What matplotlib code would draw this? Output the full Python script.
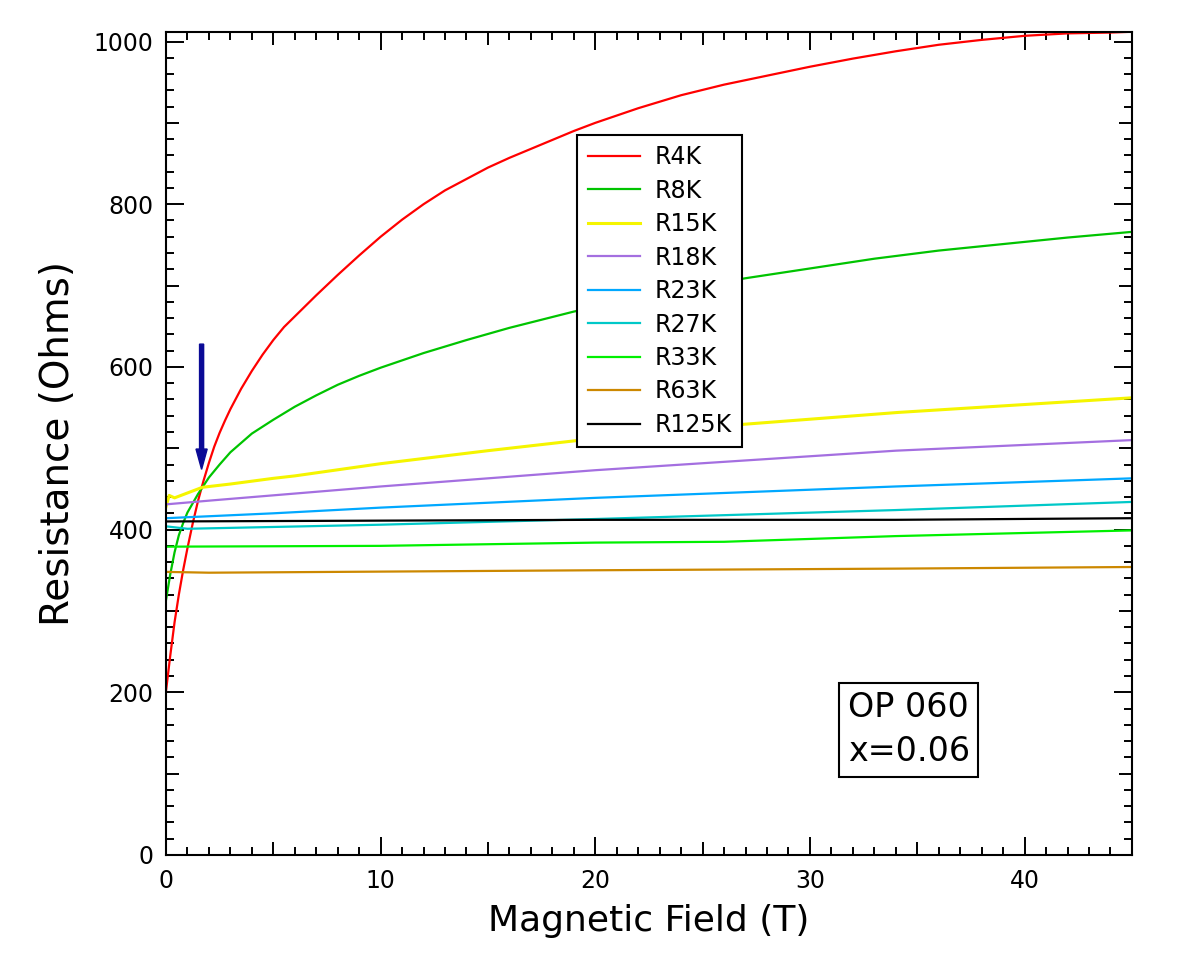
import matplotlib
matplotlib.use("Agg")
import matplotlib.pyplot as plt
from matplotlib.ticker import MultipleLocator

# field (T) / resistance (Ohms)
b_r4k = [0, 0.2, 0.4, 0.6, 0.8, 1.0, 1.25, 1.5, 1.75, 2.0, 2.25, 2.5, 2.75, 3.0, 3.5,
         4.0, 4.5, 5.0, 5.5, 6.0, 7.0, 8.0, 9.0, 10, 11, 12, 13, 14, 15, 16, 17, 18,
         19, 20, 22, 24, 26, 28, 30, 32, 34, 36, 38, 40, 42, 44, 45]
r4k = [201, 245, 286, 320, 350, 377, 408, 436, 460, 482, 502, 519, 534, 548, 573,
       595, 615, 633, 649, 662, 688, 713, 737, 760, 781, 800, 817, 831, 845, 857, 868, 879,
       890, 900, 918, 934, 947, 958, 969, 979, 988, 996, 1002, 1007, 1010, 1011, 1012]

b_r8k = [0, 0.2, 0.4, 0.6, 0.8, 1.0, 1.5, 2.0, 2.5, 3.0, 4.0, 5.0, 6.0, 7.0, 8.0, 9.0,
         10, 12, 14, 16, 19, 22, 25, 27, 30, 33, 36, 39, 42, 45]
r8k = [313, 345, 372, 393, 408, 421, 444, 464, 480, 495, 518, 535, 551, 565, 578, 589,
       599, 617, 633, 648, 668, 685, 700, 709, 721, 733, 743, 751, 759, 766]

b_r15k = [0, 0.15, 0.4, 1.0, 1.7, 3, 5, 6, 10, 15, 19, 26.7, 34.1, 45]
r15k = [428, 442, 439, 445, 452, 456, 463, 466, 481, 497, 509, 529, 544, 562]

b_r18k = [0, 2.2, 10, 20, 34, 45]
r18k = [431, 436, 453, 473, 497, 510]

b_r23k = [0, 5, 10, 20, 34, 45]
r23k = [414, 420, 427, 439, 453, 463]

b_r27k = [0, 1, 10, 20, 34, 45]
r27k = [404, 401, 406, 413, 424, 434]

b_r33k = [0, 10, 20, 26, 34, 45]
r33k = [379, 380, 384, 385, 392, 399]

b_r63k = [0, 2, 20, 34, 45]
r63k = [348, 347, 350, 352, 354]

b_r125k = [0, 10, 20, 34, 45]
r125k = [410, 411, 412, 412, 414]

labels = ["R4K", "R8K", "R15K", "R18K", "R23K", "R27K", "R33K", "R63K", "R125K"]
colors = ["#ff0000", "#00c400", "#f5f500", "#a46fe0", "#00a8ff",
          "#00c8c8", "#00f000", "#cc8800", "#000000"]
fields = [b_r4k, b_r8k, b_r15k, b_r18k, b_r23k, b_r27k, b_r33k, b_r63k, b_r125k]
values = [r4k, r8k, r15k, r18k, r23k, r27k, r33k, r63k, r125k]

plt.rcParams["font.family"] = "DejaVu Sans"

fig = plt.figure(figsize=(12, 9.71), dpi=100)
ax = fig.add_axes([0.1383, 0.1195, 0.8050, 0.8478])

for b, r, lab, col in zip(fields, values, labels, colors):
    lw = 2.2 if lab == "R15K" else 1.6
    ax.plot(b, r, color=col, lw=lw, label=lab)

# arrow marking the crossing point
ax.arrow(1.66, 628, 0, -154, width=0.19, head_width=0.52, head_length=25,
         length_includes_head=True, color="#0a0a96", zorder=5)

ax.text(34.6, 154, "OP 060\nx=0.06", fontsize=24, ha="center", va="center",
        linespacing=1.4,
        bbox=dict(boxstyle="square,pad=0.26", facecolor="white", edgecolor="black", lw=1.5))

leg = ax.legend(loc="upper left", bbox_to_anchor=(0.426, 0.875), borderaxespad=0,
                fontsize=17, frameon=True, fancybox=False, framealpha=1,
                edgecolor="black", handlelength=2.2, handletextpad=0.6,
                labelspacing=0.4, borderpad=0.45)
leg.get_frame().set_linewidth(1.5)

ax.set_xlim(0, 45)
ax.set_ylim(0, 1012)
ax.xaxis.set_major_locator(MultipleLocator(10))
ax.xaxis.set_minor_locator(MultipleLocator(1))
ax.yaxis.set_major_locator(MultipleLocator(200))
ax.yaxis.set_minor_locator(MultipleLocator(20))

ax.tick_params(which="both", direction="in", top=True, right=True, width=1.4)
ax.tick_params(which="major", length=13, labelsize=17)
ax.tick_params(axis="x", which="major", pad=10)
ax.tick_params(axis="y", which="major", pad=9)
ax.tick_params(which="minor", length=5.8)
for s in ax.spines.values():
    s.set_linewidth(1.5)

ax.set_xlabel("Magnetic Field (T)", fontsize=26, labelpad=8)
ax.set_ylabel("Resistance (Ohms)", fontsize=28, labelpad=12)

# medium-length ticks at 5 T and 100 Ohm steps
fig.canvas.draw()
for axis, step in ((ax.xaxis, 5), (ax.yaxis, 100)):
    for t in axis.get_minor_ticks():
        loc = t.get_loc()
        if loc is not None and abs(loc / step - round(loc / step)) < 1e-6:
            t.tick1line.set_markersize(9.4)
            t.tick2line.set_markersize(9.4)

fig.savefig("out.png", dpi=100)
